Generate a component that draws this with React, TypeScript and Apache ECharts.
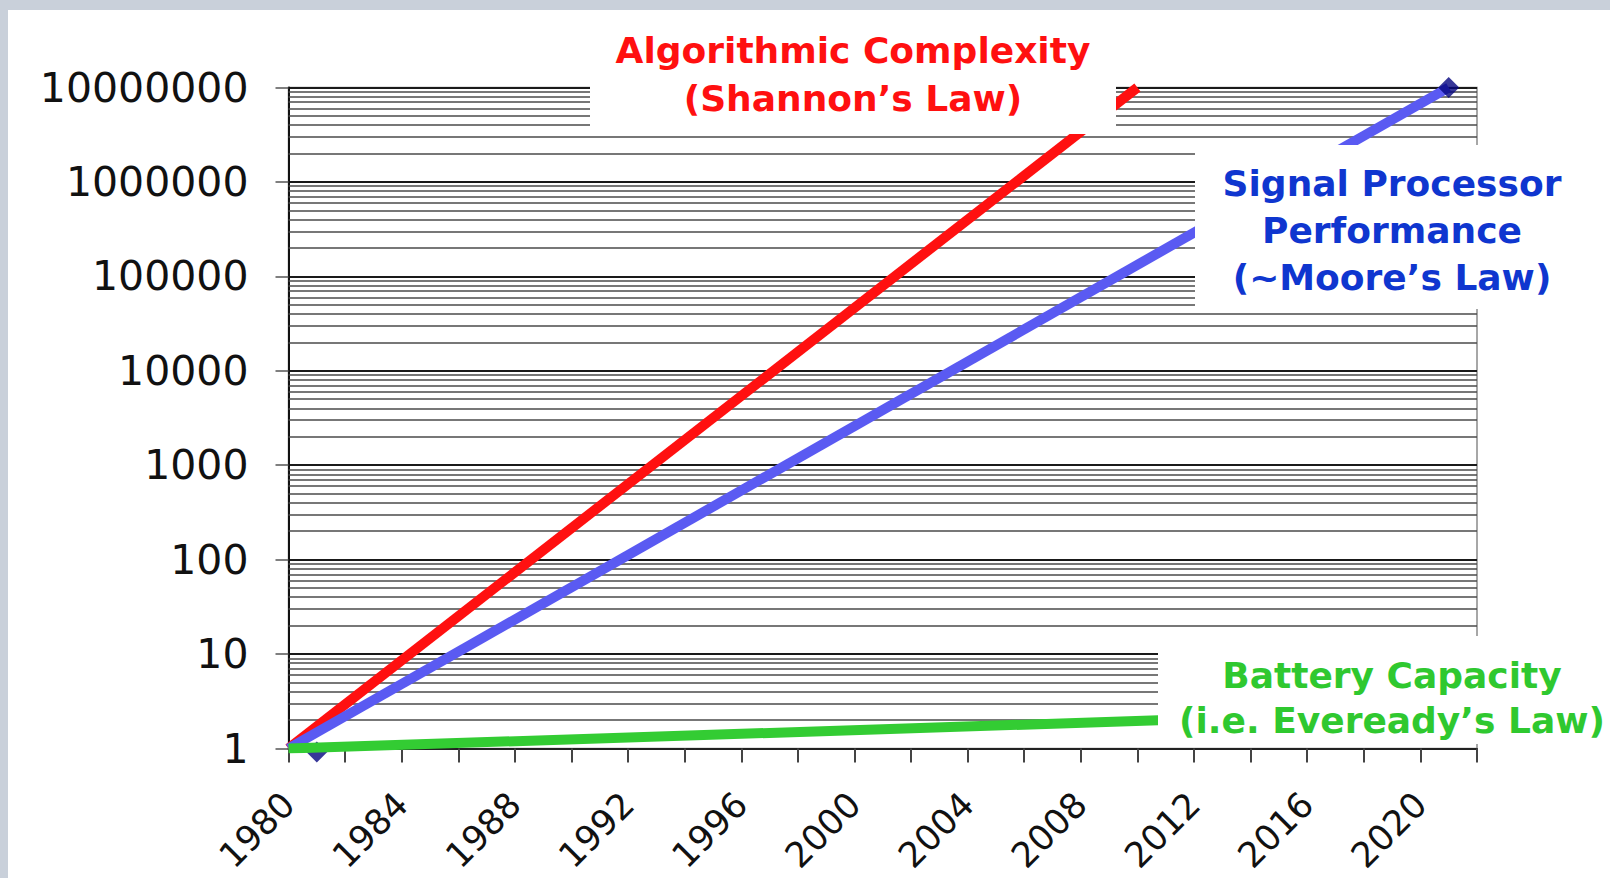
import React, { useEffect, useRef } from 'react';
import * as echarts from 'echarts';

// ---- axis ranges / ticks ----
const YEAR_MIN = 1980;
const YEAR_MAX = 2022;
const YEAR_TICK_STEP = 2;
const YEAR_LABEL_STEP = 4;
const LAST_LABEL_YEAR = 2020;

const VALUE_MIN = 1;
const VALUE_MAX = 10000000;
const VALUE_DECADES = 7;

// ---- series values: [year, relative value] ----
const shannonPoints = [
  [1980, 1],
  [2010, 10000000],
];
const moorePoints = [
  [1980, 1],
  [2021, 10000000],
];
const mooreMarkers = [
  [1981, 0.92],
  [2021, 10000000],
];
const evereadyPoints = [
  [1980, 1],
  [2011, 2],
];

// ---- minor log gridlines ----
const GRID_DECADES = [1, 10, 100, 1000, 10000, 100000, 1000000];
const GRID_MULTIPLIERS = [2, 3, 4, 5, 6, 7, 8, 9];

// ---- annotation texts ----
const shannonLabel = ['Algorithmic Complexity', '(Shannon’s Law)'];
const mooreLabel = ['Signal Processor', 'Performance', '(~Moore’s Law)'];
const evereadyLabel = ['Battery Capacity', '(i.e. Eveready’s Law)'];

const minorValues: number[] = [];
GRID_DECADES.forEach((d) => GRID_MULTIPLIERS.forEach((m) => minorValues.push(d * m)));

const BOLD_FONT = 'bold 36px "DejaVu Sans", Arial, sans-serif';

function buildOption(): any {
  return {
    animation: false,
    backgroundColor: 'transparent',
    grid: {
      left: 288.5,
      right: 133,
      top: 87.5,
      bottom: 129.5,
      show: true,
      borderColor: '#8a8a8a',
      borderWidth: 1.5,
      backgroundColor: 'transparent',
      containLabel: false,
      outerBoundsMode: 'none',
    },
    xAxis: {
      type: 'value',
      min: YEAR_MIN,
      max: YEAR_MAX,
      interval: YEAR_TICK_STEP,
      axisLine: { show: true, onZero: false, lineStyle: { color: '#222', width: 2 } },
      axisTick: { show: true, length: 14, lineStyle: { color: '#444', width: 2 } },
      splitLine: { show: false },
      axisLabel: {
        show: true,
        rotate: 45,
        margin: 50,
        fontSize: 35,
        fontFamily: 'DejaVu Sans',
        color: '#111',
        showMinLabel: true,
        showMaxLabel: true,
        hideOverlap: false,
        formatter: (v: number) =>
          (v - YEAR_MIN) % YEAR_LABEL_STEP === 0 && v <= LAST_LABEL_YEAR ? String(v) : '',
      },
    },
    yAxis: {
      type: 'log',
      logBase: 10,
      min: VALUE_MIN,
      max: VALUE_MAX,
      splitNumber: VALUE_DECADES,
      axisLine: { show: true, onZero: false, lineStyle: { color: '#111', width: 2 } },
      axisTick: { show: true, length: 13, lineStyle: { color: '#555', width: 1.5 } },
      splitLine: { show: true, lineStyle: { color: '#1a1a1a', width: 1.8 } },
      axisLabel: {
        margin: 40,
        fontSize: 41,
        fontFamily: 'DejaVu Sans',
        color: '#111',
        formatter: (v: number) => String(Math.round(v)),
      },
    },
    series: [
      {
        name: 'minor grid',
        type: 'line',
        data: [[YEAR_MIN, VALUE_MIN]],
        symbol: 'none',
        lineStyle: { opacity: 0 },
        silent: true,
        z: 1,
        markLine: {
          silent: true,
          z: 1,
          animation: false,
          symbol: ['none', 'none'],
          label: { show: false },
          emphasis: { disabled: true },
          lineStyle: { color: '#4a4a4a', width: 1.6, type: 'solid' },
          data: minorValues.map((v) => ({ yAxis: v })),
        },
      },
      {
        name: 'Algorithmic Complexity',
        type: 'line',
        data: shannonPoints,
        symbol: 'none',
        lineStyle: { color: '#ff1010', width: 10 },
        z: 3,
      },
      {
        name: 'Signal Processor Performance',
        type: 'line',
        data: moorePoints,
        symbol: 'none',
        lineStyle: { color: '#5a5af2', width: 10 },
        z: 3,
      },
      {
        name: 'Signal Processor markers',
        type: 'scatter',
        data: mooreMarkers,
        symbol: 'diamond',
        symbolSize: 21,
        clip: false,
        itemStyle: { color: '#05057f' },
        z: 3,
      },
      {
        name: 'Battery Capacity',
        type: 'line',
        data: evereadyPoints,
        symbol: 'none',
        lineStyle: { color: '#33cc33', width: 10 },
        z: 4,
      },
    ],
    graphic: [
      { type: 'rect', z: 10, shape: { x: 590, y: 20, width: 526, height: 114 }, style: { fill: '#ffffff' } },
      { type: 'rect', z: 10, shape: { x: 1195, y: 145, width: 415, height: 164 }, style: { fill: '#ffffff' } },
      { type: 'rect', z: 10, shape: { x: 1158, y: 636, width: 452, height: 108 }, style: { fill: '#ffffff' } },
      {
        type: 'text',
        z: 11,
        style: {
          text: shannonLabel.join('\n'),
          x: 853,
          y: 74,
          textAlign: 'center',
          textVerticalAlign: 'middle',
          font: BOLD_FONT,
          lineHeight: 48,
          fill: '#ff1010',
        },
      },
      {
        type: 'text',
        z: 11,
        style: {
          text: mooreLabel.join('\n'),
          x: 1392,
          y: 230,
          textAlign: 'center',
          textVerticalAlign: 'middle',
          font: BOLD_FONT,
          lineHeight: 47,
          fill: '#0f36cf',
        },
      },
      {
        type: 'text',
        z: 11,
        style: {
          text: evereadyLabel.join('\n'),
          x: 1392,
          y: 698,
          textAlign: 'center',
          textVerticalAlign: 'middle',
          font: BOLD_FONT,
          lineHeight: 45,
          fill: '#2fc82f',
        },
      },
    ],
  };
}

export default function App() {
  const ref = useRef<HTMLDivElement>(null);
  useEffect(() => {
    if (!ref.current) return;
    const chart = echarts.init(ref.current, null, { renderer: 'svg' });
    chart.setOption(buildOption());
    return () => chart.dispose();
  }, []);
  return (
    <div
      style={{
        position: 'fixed',
        left: 0,
        top: 0,
        width: 1610,
        height: 878,
        background: '#c9d0da',
        overflow: 'hidden',
      }}
    >
      <div style={{ position: 'absolute', left: 8, top: 10, right: 0, bottom: 0, background: '#ffffff' }} />
      <div ref={ref} style={{ position: 'absolute', left: 0, top: 0, width: 1610, height: 878 }} />
    </div>
  );
}
